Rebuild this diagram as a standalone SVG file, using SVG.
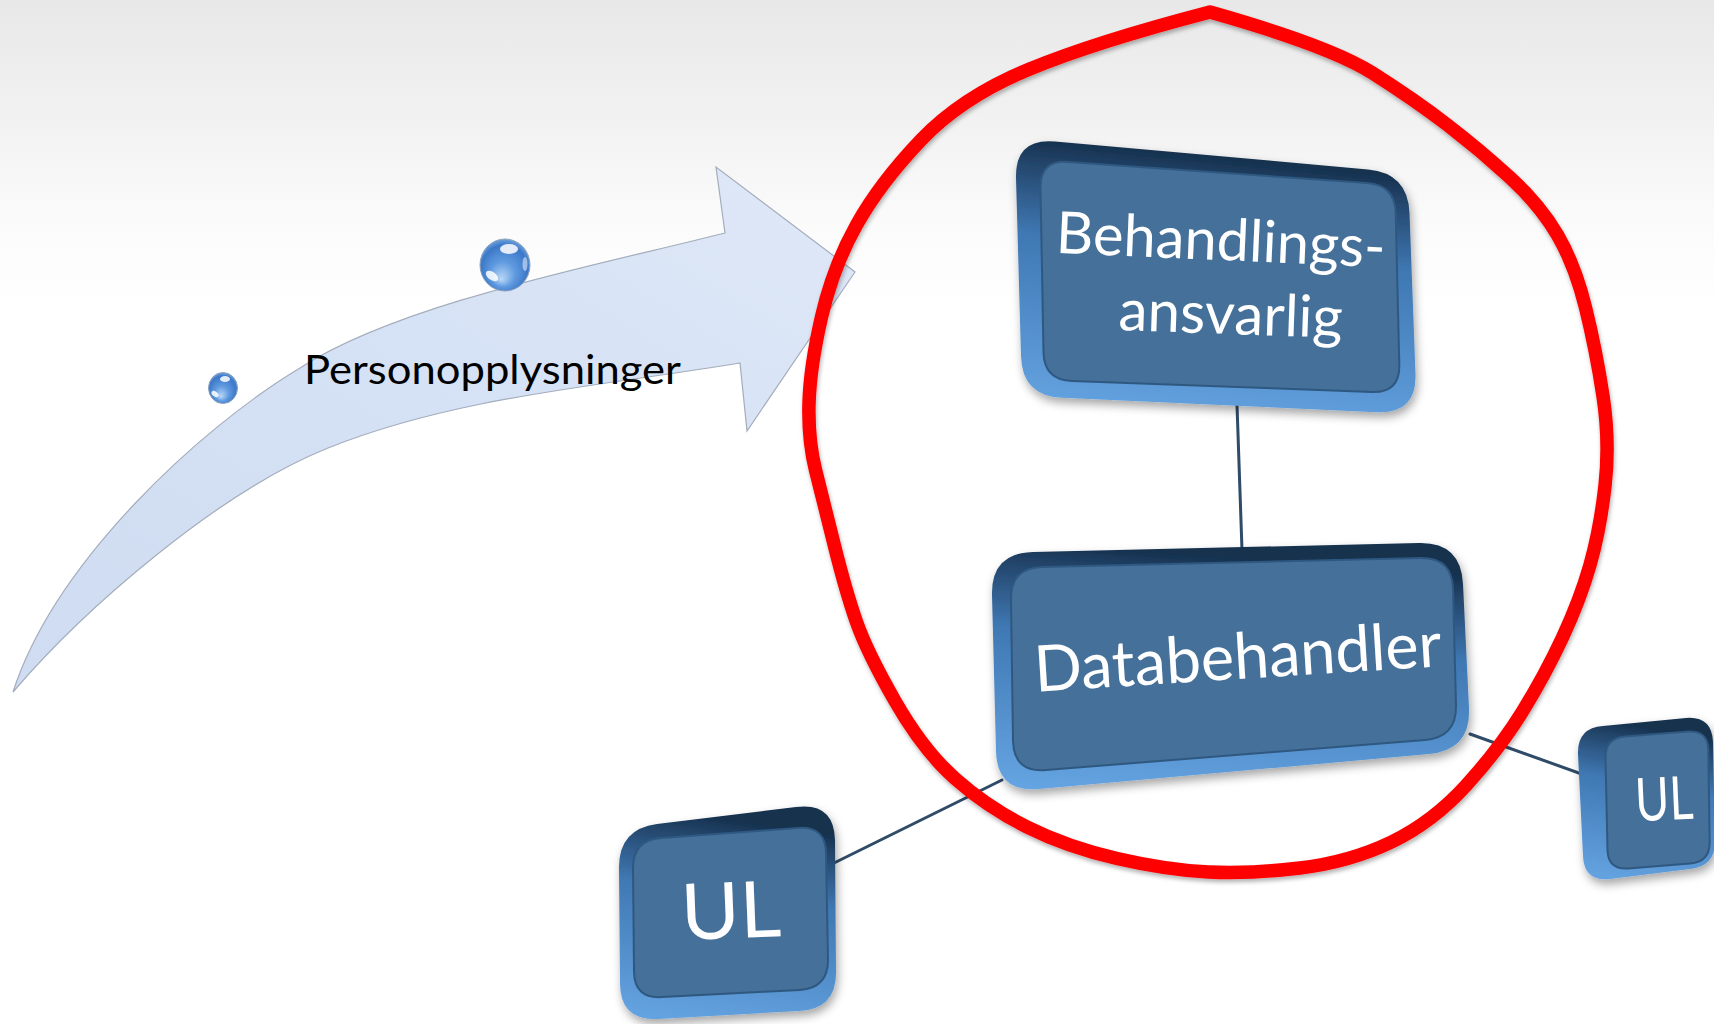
<svg xmlns="http://www.w3.org/2000/svg" width="1714" height="1024" viewBox="0 0 1714 1024">
<defs>
  <linearGradient id="bg" x1="0" y1="0" x2="0" y2="1">
    <stop offset="0" stop-color="#e8e8e8"/>
    <stop offset="0.12" stop-color="#f2f2f2"/>
    <stop offset="0.22" stop-color="#fbfbfb"/>
    <stop offset="0.3" stop-color="#ffffff"/>
  </linearGradient>
  <linearGradient id="arrowFill" x1="0" y1="1" x2="1" y2="0">
    <stop offset="0" stop-color="#cfdcf1"/>
    <stop offset="0.6" stop-color="#d6e2f5"/>
    <stop offset="1" stop-color="#dfe8f7"/>
  </linearGradient>
  <radialGradient id="sph" cx="0.5" cy="0.55" r="0.55" fx="0.42" fy="0.78">
    <stop offset="0" stop-color="#bcd8f7"/>
    <stop offset="0.45" stop-color="#5f9ae0"/>
    <stop offset="0.85" stop-color="#3c78c8"/>
    <stop offset="1" stop-color="#6fa2de"/>
  </radialGradient>
  <linearGradient id="rim" x1="0.15" y1="0" x2="0" y2="1">
    <stop offset="0" stop-color="#15304d"/>
    <stop offset="0.1" stop-color="#24466c"/>
    <stop offset="0.35" stop-color="#3f78b3"/>
    <stop offset="1" stop-color="#66a5e3"/>
  </linearGradient>
  <filter id="shadow" x="-10%" y="-10%" width="125%" height="130%">
    <feDropShadow dx="2" dy="5" stdDeviation="5" flood-color="#000" flood-opacity="0.35"/>
  </filter>
  <filter id="redShadow" x="-5%" y="-5%" width="110%" height="110%">
    <feDropShadow dx="1" dy="3" stdDeviation="2" flood-color="#000" flood-opacity="0.3"/>
  </filter>
</defs>
<style>
  .rim{fill:url(#rim)}
  .face{fill:#44709a;stroke:#2f5880;stroke-width:2}
  .lbl{font-family:Lato,"Open Sans","Liberation Sans",sans-serif;fill:#ffffff;text-anchor:middle}
  .conn{stroke:#2f4b68;stroke-width:3;fill:none;stroke-linecap:round}
  .sphere{fill:url(#sph);stroke:#8ea3bb;stroke-width:1}
  .hl{fill:#ffffff}
</style>

<rect x="0" y="0" width="1714" height="1024" fill="url(#bg)"/>

<g id="flow-arrow">
  <path d="M13,692 C55,562 200,428 300,368 C400,303 599,265 725,233 L716,167 L855,272 L747,431 L740,363 C603,386 458,396 328,448 C218,492 83,610 13,692 Z" fill="url(#arrowFill)" stroke="#a3adbc" stroke-width="1.2" stroke-linejoin="miter"/>
  <text x="304" y="384" font-family="Lato, 'Open Sans', 'Liberation Sans', sans-serif" font-size="40" fill="#000000" textLength="377" lengthAdjust="spacingAndGlyphs">Personopplysninger</text>
</g>

<g id="sphere-large">
  <ellipse class="sphere" cx="505" cy="265" rx="25" ry="26"/>
  <ellipse class="hl" cx="509" cy="249" rx="9" ry="5" opacity="0.85"/>
  <ellipse class="hl" cx="492" cy="276" rx="7" ry="4" transform="rotate(35 492 276)" opacity="0.85"/>
  <ellipse class="hl" cx="525" cy="264" rx="2.5" ry="7" opacity="0.5"/>
</g>
<g id="sphere-small">
  <ellipse class="sphere" cx="223" cy="388" rx="14.5" ry="15.5"/>
  <ellipse class="hl" cx="225" cy="379" rx="5" ry="3" opacity="0.85"/>
  <ellipse class="hl" cx="215" cy="394" rx="4" ry="2.4" transform="rotate(35 215 394)" opacity="0.85"/>
</g>

<g id="connectors">
  <line class="conn" x1="1237" y1="405" x2="1242" y2="550"/>
  <line class="conn" x1="1002" y1="780" x2="830" y2="865"/>
  <line class="conn" x1="1470" y1="734" x2="1590" y2="777"/>
</g>

<g id="node-behandlingsansvarlig" filter="url(#shadow)">
  <path class="rim" d="M1055,141.6 L1368,169.4 Q1408,173 1409.5,213 L1415.5,374 Q1417,414 1377,412.2 L1062,397.8 Q1022,396 1021,356 L1016,178 Q1015,138 1055,141.6 Z"/>
  <path class="face" d="M1068,162 L1367,183 Q1395,185 1395.7,213 L1399.3,365 Q1400,393 1372,392 L1072,381 Q1044,380 1043.5,352 L1040.5,188 Q1040,160 1068,162 Z"/>
  <text class="lbl" x="1220" y="260" font-size="58" textLength="330" lengthAdjust="spacingAndGlyphs" transform="rotate(2.5 1220 260)">Behandlings-</text>
  <text class="lbl" x="1230" y="334" font-size="58" textLength="224" lengthAdjust="spacingAndGlyphs" transform="rotate(2 1230 334)">ansvarlig</text>
</g>

<g id="node-databehandler" filter="url(#shadow)">
  <path class="rim" d="M1033,552 L1419,543 Q1461,542 1463,584 L1469,708 Q1471,750 1429,754 L1039,789 Q997,793 996,751 L992,595 Q991,553 1033,552 Z"/>
  <path class="face" d="M1042,567 L1420,558 Q1452,557 1453,589 L1456,705 Q1457,737 1425,740 L1046,770 Q1014,773 1013,741 L1011,600 Q1010,568 1042,567 Z"/>
  <text class="lbl" x="1239" y="679" font-size="64" textLength="408" lengthAdjust="spacingAndGlyphs" transform="rotate(-3.6 1239 679)">Databehandler</text>
</g>

<g id="node-ul-left" filter="url(#shadow)">
  <path class="rim" d="M657,824 L796,807 Q834,802 835,840 L836,971 Q837,1009 799,1011 L658,1019 Q620,1021 620,983 L619,867 Q619,829 657,824 Z"/>
  <path class="face" d="M661,838 L798,828 Q826,826 826,854 L828,960 Q828,988 800,990 L662,997 Q634,999 634,971 L633,868 Q633,840 661,838 Z"/>
  <text class="lbl" x="732" y="938" font-size="78" textLength="100" lengthAdjust="spacingAndGlyphs" transform="rotate(-2.3 732 938)">UL</text>
</g>

<g id="node-ul-right" filter="url(#shadow)">
  <path class="rim" d="M1603,726 L1686,718 Q1712,716 1713,742 L1715,840 Q1716,866 1690,869 L1610,879 Q1584,882 1583,856 L1578,754 Q1577,728 1603,726 Z"/>
  <path class="face" d="M1625,736.5 L1688,731.5 Q1708,730 1708.3,750 L1709.7,842 Q1710,862 1690,863.6 L1628,868.4 Q1608,870 1607.5,850 L1605.5,758 Q1605,738 1625,736.5 Z"/>
  <text class="lbl" x="1665" y="820" font-size="60" textLength="58" lengthAdjust="spacingAndGlyphs" transform="rotate(-2.5 1665 820)">UL</text>
</g>

<g id="highlight-loop" filter="url(#redShadow)">
  <path d="M1210,12 Q1330,46 1372.5,73 Q1415,100 1447.5,125 Q1480,150 1510,177.5 Q1540,205 1557.5,235 Q1575,265 1585.5,307.5 Q1596,350 1603,396 Q1610,442 1605,486 Q1600,530 1590,565 Q1580,600 1562.5,637.5 Q1545,675 1522.5,711.5 Q1500,748 1466.5,785 Q1433,822 1391.5,842 Q1350,862 1300,868 Q1250,874 1208.5,872 Q1167,870 1117,858.5 Q1067,847 1027,827 Q987,807 955,778.5 Q923,750 895,701 Q867,652 856.5,622 Q846,592 834.5,546 Q823,500 815.5,470 Q808,440 809,403.5 Q810,367 821.5,317 Q833,267 856.5,225 Q880,183 921,140 Q962,97 1028.5,69.5 Q1095,42 1210,12 Z" fill="none" stroke="#ff0000" stroke-width="13.5" stroke-linejoin="round"/>
</g>
</svg>
